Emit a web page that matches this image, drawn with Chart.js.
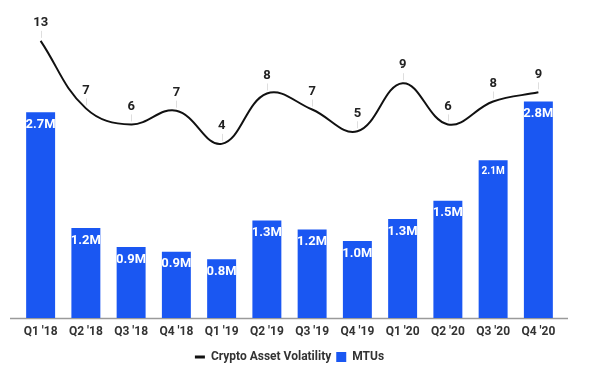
<!DOCTYPE html>
<html>
<head>
<meta charset="utf-8">
<script src="https://cdn.jsdelivr.net/npm/chart.js@4.4.1/dist/chart.umd.min.js"></script>
<style>
  html, body { margin: 0; padding: 0; background: #fff; }
  #wrap { width: 591px; height: 369px; }
</style>
</head>
<body>
<div id="wrap"><canvas id="mtuChart" width="591" height="369"></canvas></div>
<script>
// Quarterly data
const quarters = ["Q1 '18", "Q2 '18", "Q3 '18", "Q4 '18", "Q1 '19", "Q2 '19",
                  "Q3 '19", "Q4 '19", "Q1 '20", "Q2 '20", "Q3 '20", "Q4 '20"];
// monthly transacting users, millions
const mtus = [2.70, 1.18, 0.93, 0.87, 0.77, 1.28, 1.16, 1.01, 1.30, 1.54, 2.07, 2.84];
// crypto asset volatility index
const volatility = [13.0, 7.1, 5.7, 6.9, 4.0, 8.4, 7.0, 5.1, 9.3, 5.7, 7.7, 8.5];

const BLUE = '#1a57f2';
const FONT = 'Roboto, "Noto Sans", Arial, sans-serif';

// axis line that runs a bit past the plot on both sides
const baseLine = {
    id: 'baseLine',
    beforeDatasetsDraw: function(chart) {
        const ctx = chart.ctx;
        const a = chart.chartArea;
        ctx.save();
        ctx.strokeStyle = '#9a9a9a';
        ctx.lineWidth = 1.5;
        ctx.beginPath();
        ctx.moveTo(a.left - 8, a.bottom + 0.5);
        ctx.lineTo(a.right + 7, a.bottom + 0.5);
        ctx.stroke();
        ctx.restore();
    }
};

// value labels: inside bar tops, and above the line points with a leader
const valueLabels = {
    id: 'valueLabels',
    afterDatasetsDraw: function(chart) {
        const ctx = chart.ctx;
        ctx.save();
        ctx.textAlign = 'center';
        ctx.textBaseline = 'middle';

        const lineMeta = chart.getDatasetMeta(0);
        lineMeta.data.forEach(function(pt, i) {
            ctx.strokeStyle = '#dedede';
            ctx.lineWidth = 1;
            ctx.beginPath();
            ctx.moveTo(Math.round(pt.x) + 0.5, pt.y - 3);
            ctx.lineTo(Math.round(pt.x) + 0.5, pt.y - 10);
            ctx.stroke();
            ctx.fillStyle = '#222';
            ctx.font = 'bold 13px ' + FONT;
            ctx.fillText(Math.round(volatility[i]).toString(), pt.x, pt.y - 18);
        });

        const barMeta = chart.getDatasetMeta(1);
        barMeta.data.forEach(function(bar, i) {
            const w = bar.width;
            ctx.save();
            ctx.beginPath();
            ctx.rect(bar.x - w / 2, bar.y, w, bar.base - bar.y);
            ctx.clip();
            ctx.fillStyle = '#fff';
            // the Q3 '20 label was shrunk to fit in the original
            ctx.font = (i === 10 ? 'bold 10px ' : 'bold 13px ') + FONT;
            ctx.fillText(mtus[i].toFixed(1) + 'M', bar.x, bar.y + (i === 10 ? 11 : 12.5));
            ctx.restore();
        });
        ctx.restore();
    }
};

const chart = new Chart(document.getElementById('mtuChart'), {
    data: {
        labels: quarters,
        datasets: [{
            type: 'line',
            label: 'Crypto Asset Volatility',
            data: volatility,
            yAxisID: 'y1',
            borderColor: '#111',
            borderWidth: 2,
            tension: 0.4,
            pointRadius: 0,
            fill: false
        }, {
            type: 'bar',
            label: 'MTUs',
            data: mtus,
            yAxisID: 'y',
            backgroundColor: BLUE,
            barPercentage: 0.64,
            categoryPercentage: 1.0
        }]
    },
    options: {
        responsive: false,
        animation: false,
        layout: {
            padding: { left: 18, right: 30, top: 20, bottom: -4 }
        },
        scales: {
            x: {
                grid: { display: false, drawTicks: false },
                border: { display: false },
                afterFit: function(scale) { scale.height = 28; },
                ticks: {
                    color: '#333',
                    font: { family: FONT, size: 12, weight: 'bold' },
                    padding: 7,
                    maxRotation: 0,
                    autoSkip: false
                }
            },
            y: { display: false, min: 0, max: 3.91 },
            y1: { display: false, min: -11.21, max: 14.82 }
        },
        plugins: {
            tooltip: { enabled: false },
            legend: {
                position: 'bottom',
                labels: {
                    usePointStyle: true,
                    boxHeight: 10,
                    pointStyleWidth: 10,
                    padding: 5,
                    color: '#333',
                    font: { family: FONT, size: 12, weight: 'bold' },
                    generateLabels: function() {
                        return [
                            { text: 'Crypto Asset Volatility', pointStyle: 'line', strokeStyle: '#111',
                              fillStyle: '#111', lineWidth: 3, fontColor: '#333' },
                            { text: 'MTUs', pointStyle: 'rect', strokeStyle: BLUE,
                              fillStyle: BLUE, lineWidth: 0, fontColor: '#333' }
                        ];
                    }
                }
            }
        }
    },
    plugins: [baseLine, valueLabels]
});
</script>
</body>
</html>
